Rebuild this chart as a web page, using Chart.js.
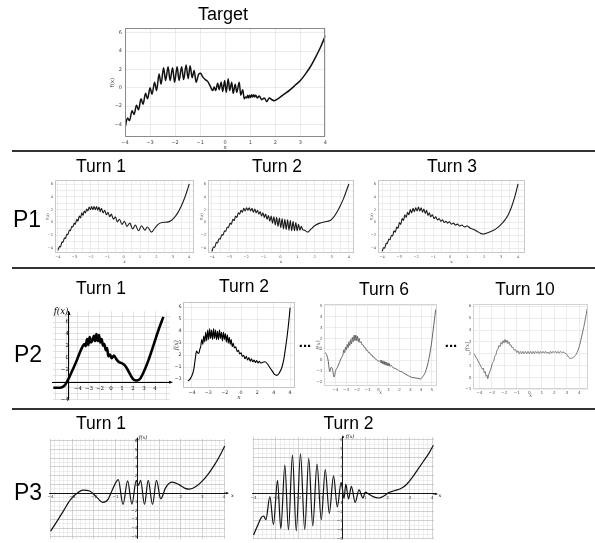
<!DOCTYPE html>
<html>
<head>
<meta charset="utf-8">
<script src="https://cdn.jsdelivr.net/npm/chart.js@4.4.1/dist/chart.umd.min.js"></script>
<style>
html, body { margin: 0; padding: 0; background: #fff; }
#fig { position: relative; width: 595px; height: 543px; overflow: hidden; font-family: 'Liberation Sans', Arial, sans-serif; }
.lbl { position: absolute; transform: translate(-50%, -50%); white-space: nowrap; line-height: 1; color: #000; }
.rule { position: absolute; left: 12px; width: 583px; height: 2px; background: #333; }
</style>
</head>
<body>
<div id="fig"></div>
<script>
// ---- curves (x, f(x)) ----
const targetX = [-4.0,-3.9,-3.82,-3.72,-3.64,-3.54,-3.46,-3.36,-3.28,-3.18,-3.1,-3.0,-2.92,-2.82,-2.74,-2.64,-2.56,-2.46,-2.38,-2.28,-2.2,-2.1,-2.02,-1.92,-1.84,-1.74,-1.66,-1.56,-1.48,-1.4,-1.32,-1.24,-1.16,-1.06,-0.98,-0.9,-0.8,-0.7,-0.6,-0.5,-0.44,-0.38,-0.3,-0.24,-0.16,-0.1,-0.02,0.04,0.12,0.18,0.26,0.32,0.4,0.46,0.56,0.62,0.7,0.76,0.82,0.86,0.9,0.94,0.98,1.02,1.06,1.1,1.14,1.18,1.22,1.28,1.36,1.46,1.56,1.66,1.76,1.86,1.96,2.1,2.3,2.6,2.8,3.0,3.2,3.4,3.6,3.8,4.0];
const targetY = [-4.4,-3.3,-3.6,-2.5,-2.9,-1.9,-2.4,-1.2,-1.8,-0.6,-1.2,0.0,-0.7,0.6,-0.3,1.5,0.4,2.2,0.8,2.3,0.8,2.2,0.6,2.3,0.8,2.3,0.9,2.5,1.0,2.4,1.1,1.9,0.6,1.5,1.6,1.2,0.9,0.7,0.2,-0.3,0.1,-0.3,0.5,-0.2,0.6,-0.4,0.8,-0.5,1.0,-0.3,0.6,-0.6,0.4,-0.5,0.6,-0.8,-0.2,-1.2,-1.0,-1.1,-0.8,-1.1,-0.8,-1.05,-0.75,-1.0,-0.75,-1.0,-0.8,-1.1,-0.9,-1.3,-1.1,-1.5,-1.1,-1.3,-1.4,-1.2,-0.8,-0.2,0.3,0.8,1.5,2.3,3.3,4.4,5.7];

const p1t1X = [-4.0,-3.9,-3.85,-3.75,-3.7,-3.6,-3.55,-3.45,-3.4,-3.3,-3.25,-3.15,-3.1,-3.0,-2.95,-2.85,-2.78,-2.7,-2.62,-2.55,-2.47,-2.4,-2.32,-2.25,-2.17,-2.1,-2.02,-1.95,-1.87,-1.8,-1.72,-1.65,-1.57,-1.5,-1.42,-1.35,-1.25,-1.15,-1.05,-0.95,-0.85,-0.75,-0.62,-0.5,-0.38,-0.25,-0.1,0.05,0.2,0.38,0.55,0.72,0.9,1.1,1.3,1.45,1.7,1.9,2.1,2.35,2.65,2.9,3.1,3.3,3.5,3.7,3.85,4.0];
const p1t1Y = [-4.35,-3.7,-3.8,-3.0,-3.1,-2.4,-2.5,-1.8,-1.9,-1.2,-1.3,-0.6,-0.7,-0.1,-0.3,0.5,0.2,1.0,0.7,1.5,1.1,1.8,1.5,2.1,1.8,2.4,2.0,2.5,2.0,2.5,2.0,2.5,1.9,2.4,1.7,2.2,1.5,1.9,1.2,1.6,0.9,1.3,0.5,0.9,0.1,0.5,-0.3,0.2,-0.6,-0.1,-1.0,-0.4,-1.3,-0.5,-1.2,-0.7,-1.5,-0.9,-0.3,0.0,0.05,0.3,0.8,1.5,2.5,3.7,4.8,6.0];

const p1t2X = [-4.0,-3.9,-3.84,-3.74,-3.68,-3.58,-3.52,-3.42,-3.36,-3.26,-3.2,-3.1,-3.04,-2.94,-2.87,-2.78,-2.7,-2.62,-2.54,-2.46,-2.38,-2.3,-2.22,-2.14,-2.06,-1.98,-1.9,-1.82,-1.74,-1.66,-1.58,-1.5,-1.42,-1.34,-1.26,-1.18,-1.1,-1.02,-0.94,-0.86,-0.78,-0.7,-0.62,-0.54,-0.46,-0.38,-0.3,-0.22,-0.14,-0.06,0.02,0.1,0.18,0.26,0.34,0.42,0.5,0.58,0.66,0.74,0.82,0.9,0.98,1.06,1.14,1.22,1.3,1.4,1.6,1.8,2.0,2.3,2.6,2.9,3.1,3.3,3.5,3.7,3.85,4.0];
const p1t2Y = [-4.5,-3.8,-3.9,-3.1,-3.2,-2.5,-2.6,-1.9,-2.0,-1.3,-1.4,-0.7,-0.8,-0.1,-0.3,0.5,0.3,1.0,0.8,1.5,1.3,1.9,1.6,2.2,1.8,2.3,1.9,2.3,1.8,2.2,1.6,2.1,1.5,1.9,1.3,1.7,1.0,1.5,0.8,1.3,0.5,1.1,0.2,1.0,-0.1,0.9,-0.4,0.8,-0.6,0.7,-0.8,0.6,-1.0,0.5,-1.1,0.4,-1.2,0.3,-1.3,0.2,-1.3,0.0,-1.3,-0.3,-1.2,-0.6,-1.1,-1.2,-1.5,-1.0,-0.5,-0.1,0.1,0.3,0.8,1.6,2.6,3.8,4.9,6.0];

const p1t3X = [-4.0,-3.9,-3.85,-3.75,-3.7,-3.6,-3.54,-3.45,-3.38,-3.3,-3.22,-3.14,-3.06,-2.98,-2.9,-2.82,-2.74,-2.66,-2.58,-2.5,-2.42,-2.34,-2.26,-2.18,-2.1,-2.02,-1.94,-1.86,-1.78,-1.7,-1.62,-1.54,-1.46,-1.38,-1.3,-1.22,-1.14,-1.04,-0.94,-0.84,-0.74,-0.64,-0.54,-0.44,-0.34,-0.24,-0.14,-0.04,0.08,0.2,0.32,0.44,0.56,0.7,0.84,1.0,1.2,1.4,1.6,1.8,1.95,2.2,2.5,2.8,3.0,3.2,3.4,3.6,3.8,4.0];
const p1t3Y = [-4.5,-3.9,-4.0,-3.2,-3.3,-2.6,-2.7,-2.0,-2.1,-1.3,-1.5,-0.7,-0.9,0.0,-0.3,0.6,0.3,1.2,0.8,1.6,1.2,2.0,1.5,2.2,1.7,2.3,1.8,2.4,1.8,2.3,1.6,2.1,1.4,1.9,1.1,1.5,0.9,1.2,0.6,0.9,0.4,0.6,0.2,0.4,0.0,0.2,-0.1,0.1,-0.25,-0.1,-0.4,-0.25,-0.55,-0.4,-0.7,-0.55,-0.9,-1.1,-1.4,-1.7,-1.8,-1.6,-1.3,-0.8,-0.3,0.3,1.1,2.3,3.9,6.0];

const p2t1X = [-5.24,-4.64,-4.24,-4.03,-3.73,-3.42,-3.12,-2.82,-2.61,-2.42,-2.30,-2.18,-2.06,-1.94,-1.82,-1.67,-1.55,-1.45,-1.33,-1.21,-1.09,-0.97,-0.85,-0.73,-0.61,-0.48,-0.36,-0.24,-0.09,0.06,0.27,0.48,0.73,0.97,1.21,1.45,1.73,2.03,2.33,2.64,2.94,3.39,3.85,4.3,4.76];
const p2t1Y = [-5.09,-5.09,-4.74,-4.18,-3.06,-1.79,-0.51,0.91,1.78,2.28,1.93,3.15,2.13,3.46,2.54,3.05,3.66,2.79,3.97,2.79,3.82,2.54,3.15,2.03,2.28,1.27,1.62,0.25,0.5,-0.1,0.35,-0.26,-0.77,-0.92,-1.23,-1.84,-2.8,-3.67,-3.87,-3.57,-2.55,-0.51,2.03,4.58,6.87];

const p2t2X = [-0.25,-0.1,0.05,0.12,0.2,0.28,0.35,0.42,0.48,0.53,0.6,0.66,0.72,0.78,0.84,0.9,0.96,1.02,1.08,1.14,1.2,1.26,1.32,1.38,1.44,1.5,1.56,1.62,1.68,1.74,1.8,1.86,1.92,1.98,2.04,2.1,2.16,2.22,2.28,2.34,2.4,2.46,2.52,2.6,2.68,2.76,2.84,2.92,3.0,3.08,3.16,3.24,3.32,3.4,3.48,3.56,3.64,3.72,3.8,3.88,3.96,4.04,4.12,4.2,4.3,4.47,4.6,4.75,4.9,5.05,5.2,5.35,5.5,5.62,5.72,5.82,5.92,6.0];
const p2t2Y = [-0.15,0.05,0.5,0.9,1.7,2.35,2.2,2.15,2.5,2.7,3.3,2.9,3.6,3.1,3.9,3.2,4.1,3.3,4.2,3.4,4.1,3.3,4.2,3.4,4.1,3.3,4.0,3.3,4.1,3.4,3.9,3.2,3.9,3.3,3.8,3.1,3.7,3.0,3.5,2.9,3.3,2.7,3.0,2.6,2.7,2.3,2.4,2.1,2.2,1.9,2.0,1.7,1.9,1.6,1.8,1.5,1.7,1.45,1.6,1.4,1.55,1.35,1.5,1.35,1.4,1.45,1.3,1.0,0.7,0.4,0.32,0.55,1.0,1.7,2.6,3.6,4.8,5.95];

const p2t6X = [-5.06,-4.88,-4.69,-4.53,-4.41,-4.29,-4.13,-3.98,-3.82,-3.63,-3.45,-3.3,-3.22,-3.14,-3.06,-2.98,-2.9,-2.82,-2.74,-2.66,-2.58,-2.5,-2.42,-2.34,-2.26,-2.18,-2.1,-2.02,-1.94,-1.86,-1.78,-1.7,-1.6,-1.5,-1.4,-1.3,-1.2,-1.1,-1.0,-0.9,-0.8,-0.7,-0.6,-0.5,-0.4,-0.3,-0.2,-0.1,0.0,0.1,0.2,0.26,0.32,0.38,0.44,0.5,0.56,0.62,0.68,0.74,0.8,0.86,0.92,0.98,1.04,1.1,1.2,1.35,1.6,1.8,2.0,2.2,2.5,2.8,3.1,3.4,3.7,3.95,4.15,4.35,4.5,4.66,4.82,4.97,5.1,5.2,5.3,5.37];
const p2t6Y = [0.74,0.62,0.03,-1.03,-0.65,-0.74,-1.53,-0.94,-0.65,-0.21,0.24,0.5,0.95,0.7,1.2,0.95,1.45,1.15,1.7,1.35,1.9,1.5,2.1,1.7,2.3,1.8,2.3,1.8,2.2,1.7,2.0,1.6,1.7,1.4,1.4,1.15,1.15,0.9,0.9,0.7,0.7,0.5,0.5,0.3,0.3,0.15,0.1,0.0,-0.05,-0.1,0.0,-0.25,0.0,-0.3,-0.05,-0.35,-0.1,-0.4,-0.15,-0.45,-0.2,-0.5,-0.25,-0.5,-0.3,-0.55,-0.45,-0.65,-0.75,-0.85,-1.0,-1.05,-1.25,-1.4,-1.55,-1.6,-1.65,-1.7,-1.5,-1.2,-0.8,-0.2,0.6,1.5,2.5,3.3,4.1,4.65];

const p2t10X = [-4.53,-4.4,-4.2,-4.0,-3.85,-3.75,-3.68,-3.6,-3.52,-3.45,-3.38,-3.32,-3.25,-3.15,-3.05,-2.95,-2.85,-2.75,-2.67,-2.58,-2.5,-2.42,-2.34,-2.26,-2.18,-2.1,-2.02,-1.94,-1.86,-1.78,-1.7,-1.62,-1.54,-1.46,-1.38,-1.3,-1.2,-1.1,-1.0,-0.9,-0.8,-0.7,-0.6,-0.5,-0.4,-0.3,-0.2,-0.1,0.0,0.1,0.2,0.3,0.4,0.5,0.6,0.7,0.8,0.9,1.0,1.1,1.2,1.3,1.4,1.5,1.6,1.7,1.8,1.9,2.0,2.1,2.2,2.3,2.4,2.5,2.6,2.7,2.85,3.0,3.15,3.3,3.45,3.6,3.75,3.9,4.05,4.2,4.35,4.5,4.62,4.72];
const p2t10Y = [2.2,1.95,1.6,1.2,0.9,0.7,0.8,0.4,0.5,0.1,0.2,-0.1,0.2,0.5,0.8,1.2,1.35,1.8,1.9,2.3,2.4,2.7,2.6,2.95,2.8,3.1,2.9,3.2,2.95,3.15,2.85,3.0,2.7,2.75,2.5,2.55,2.3,2.35,2.1,2.25,2.0,2.2,2.0,2.2,2.0,2.2,2.0,2.2,2.0,2.2,2.0,2.2,2.0,2.2,2.05,2.2,2.0,2.2,2.05,2.2,2.05,2.2,2.05,2.15,2.0,2.2,2.05,2.2,2.1,2.2,2.05,2.2,2.05,2.2,2.1,2.15,2.05,1.95,1.7,1.6,1.65,1.75,1.95,2.3,2.8,3.5,4.2,5.0,5.7,6.1];

const p3t1X = [-4.0,-3.7,-3.4,-3.1,-2.8,-2.5,-2.2,-1.9,-1.6,-1.35,-1.15,-0.88,-0.66,-0.45,-0.25,-0.05,0.05,0.15,0.33,0.5,0.7,0.88,1.08,1.3,1.6,1.9,2.2,2.4,2.7,3.0,3.3,3.6,3.85,4.03];
const p3t1Y = [-4.35,-3.2,-2.0,-0.8,-0.05,0.35,0.25,-0.4,-1.05,-0.7,0.4,1.55,-1.3,1.4,-1.25,1.45,0.9,1.45,-1.3,1.45,-1.3,1.45,-0.65,0.6,1.25,1.0,0.55,0.45,0.75,1.4,2.3,3.4,4.5,5.4];

const p3t2X = [-4.0,-3.82,-3.65,-3.55,-3.45,-3.27,-3.11,-2.93,-2.78,-2.6,-2.44,-2.26,-2.09,-1.9,-1.71,-1.53,-1.35,-1.16,-0.97,-0.79,-0.61,-0.42,-0.25,-0.08,0.05,0.13,0.25,0.38,0.55,0.72,0.9,1.0,1.15,1.35,1.6,1.85,2.05,2.3,2.6,2.85,3.1,3.35,3.6,3.85,4.05];
const p3t2Y = [-4.55,-3.5,-2.6,-2.45,-2.85,-0.3,-3.4,1.5,-3.85,3.2,-4.0,4.3,-4.1,4.45,-3.95,3.95,-3.55,3.3,-2.85,2.7,-2.15,2.0,-1.45,1.3,-0.5,1.1,-0.55,0.85,-0.95,0.45,-0.45,0.2,0.0,-0.3,-0.45,-0.2,0.15,0.35,0.6,1.05,1.8,2.7,3.6,4.5,5.4];

// ---- tick labels ----
const mainXTicks = [-4,-3,-2,-1,0,1,2,3,4];
const mainXText = ['−4','−3','−2','−1','0','1','2','3','4'];
const mainYTicks = [-4,-2,0,2,4,6];
const mainYText = ['−4','−2','0','2','4','6'];
const p2t1XTicks = [-3,-2,-1,0,1,2,3,4];
const p2t1XText = ['−4','−3','−2','0','1','2','3','4'];
const p2t1YTicks = [6,4,2,0,-2,-7];
const p2t1YText = ['6','4','2','0','−2','−4'];
const p2t2XTicks = [0,1,2,3,4,5,6];
const p2t2XText = ['−4','−3','−2','0','2','4','4'];
const p2t2YTicks = [0,1,2,3,4,5,6];
const p2t2YText = ['−3','−1','2','3','4','5','6'];
const p2t6XTicks = [-4,-3,-2,-1,0,1,2,3,4,5];
const p2t6XText = ['−4','−3','−2','−1','0','1','2','3','4','5'];
const p2t6YTicks = [-2,-1,0,1,2,3,4,5];
const p2t6YText = ['−2','−1','0','1','2','3','4','5'];
const p2t10YTicks = [-1,0,1,2,3,4,5,6];
const p2t10YText = ['−1','0','1','2','3','4','5','6'];
const p3XTicks = [-4,-3,-2,-1,1,2,3,4];
const p3XText = ['−4','−3','−2','−1','1','2','3','4'];
const p3YTicks = [6,5,4,3,2,1,-1,-2,-3,-4,-5];
const p3YText = ['6','5','4','3','2','1','−1','−2','−3','−4','−5'];

const fig = document.getElementById('fig');
Chart.defaults.font.family = 'DejaVu Sans';

function addText(txt, x, y, size, extra) {
    const d = document.createElement('div');
    d.className = 'lbl';
    d.textContent = txt;
    d.style.left = x + 'px';
    d.style.top = y + 'px';
    d.style.fontSize = size + 'px';
    if (extra) Object.assign(d.style, extra);
    fig.appendChild(d);
}

function steps(a, b, s) {
    const out = [];
    for (let v = a; v <= b + 1e-9; v += s) out.push(Math.round(v * 1000) / 1000);
    return out;
}

function labeler(vals, texts) {
    return function(v) {
        const i = vals.findIndex(t => Math.abs(t - v) < 1e-6);
        return i < 0 ? '' : texts[i];
    };
}

// frame round the plot area, and arrow heads for the crossing axes
const framePlugin = {
    id: 'frame',
    afterDatasetsDraw(chart, args, opt) {
        const ctx = chart.ctx, a = chart.chartArea;
        ctx.save();
        if (opt.color) {
            ctx.strokeStyle = opt.color;
            ctx.lineWidth = 1;
            ctx.strokeRect(Math.round(a.left) + 0.5, Math.round(a.top) + 0.5,
                Math.round(a.right - a.left) - 1, Math.round(a.bottom - a.top) - 1);
        }
        if (opt.cross) {
            const ax = chart.scales.x.getPixelForValue(opt.cross[0]);
            const ay = chart.scales.y.getPixelForValue(opt.cross[1]);
            const s = opt.head;
            ctx.strokeStyle = '#000';
            ctx.fillStyle = '#000';
            ctx.lineWidth = opt.axisW;
            const xr = a.right + opt.tipX;
            ctx.beginPath(); ctx.moveTo(a.right - 1, ay); ctx.lineTo(xr - s, ay); ctx.stroke();
            ctx.beginPath(); ctx.moveTo(xr, ay); ctx.lineTo(xr - s * 1.7, ay - s * 0.7); ctx.lineTo(xr - s * 1.7, ay + s * 0.7); ctx.closePath(); ctx.fill();
            const yt = a.top - opt.tipY;
            ctx.beginPath(); ctx.moveTo(ax, a.top + 1); ctx.lineTo(ax, yt + s); ctx.stroke();
            ctx.beginPath(); ctx.moveTo(ax, yt); ctx.lineTo(ax - s * 0.7, yt + s * 1.7); ctx.lineTo(ax + s * 0.7, yt + s * 1.7); ctx.closePath(); ctx.fill();
        }
        ctx.restore();
    }
};

function plot(o) {
    const p = o.pad, b = o.box;
    const W = Math.round(b[2] - b[0] + p.l + p.r);
    const H = Math.round(b[3] - b[1] + p.t + p.b);
    const cv = document.createElement('canvas');
    cv.width = W;
    cv.height = H;
    Object.assign(cv.style, { position: 'absolute', left: (b[0] - p.l) + 'px', top: (b[1] - p.t) + 'px', width: W + 'px', height: H + 'px' });
    fig.appendChild(cv);

    const centred = !!o.cross;
    const tickFont = { family: o.font || 'DejaVu Sans', size: o.fs };
    const titleFont = o.titleFont || { family: 'DejaVu Sans', size: o.fs + 0.5 };

    new Chart(cv, {
        type: 'line',
        data: {
            datasets: [{
                data: o.xs.map((x, i) => ({ x: x, y: o.ys[i] })),
                borderColor: o.line,
                borderWidth: o.lw,
                pointRadius: 0,
                cubicInterpolationMode: 'monotone',
                fill: false
            }]
        },
        options: {
            responsive: false,
            animation: false,
            events: [],
            layout: {
                autoPadding: false,
                padding: centred ? { left: p.l, top: p.t, right: p.r, bottom: p.b } : { left: 0, top: p.t, right: p.r, bottom: 0 }
            },
            plugins: {
                legend: { display: false },
                tooltip: { enabled: false },
                frame: { color: o.frame, cross: o.cross, head: o.head || 2, axisW: o.axisW || 1, tipX: o.tipX || 0, tipY: o.tipY || 0 }
            },
            scales: {
                x: {
                    type: 'linear',
                    min: o.x[0],
                    max: o.x[1],
                    position: centred ? { y: o.cross[1] } : 'bottom',
                    afterBuildTicks: s => { s.ticks = o.xGrid.map(v => ({ value: v })); },
                    afterFit: s => { s.height = centred ? 0 : p.b; },
                    grid: { color: o.grid, lineWidth: o.gridW || 0.8, drawTicks: false },
                    border: { display: centred, color: '#000', width: o.axisW || 1 },
                    ticks: { autoSkip: false, maxRotation: 0, padding: o.tickPad, font: tickFont, color: o.tickColor, callback: labeler(o.xTicks, o.xText) },
                    title: { display: !!o.xTitle, text: o.xTitle || '', padding: 0, font: titleFont, color: o.tickColor }
                },
                y: {
                    type: 'linear',
                    min: o.y[0],
                    max: o.y[1],
                    position: centred ? { x: o.cross[0] } : 'left',
                    afterBuildTicks: s => { s.ticks = o.yGrid.map(v => ({ value: v })); },
                    afterFit: s => { s.width = centred ? 0 : p.l; },
                    grid: { color: o.grid, lineWidth: o.gridW || 0.8, drawTicks: false },
                    border: { display: centred, color: '#000', width: o.axisW || 1 },
                    ticks: { autoSkip: false, padding: o.tickPad, font: tickFont, color: o.tickColor, callback: labeler(o.yTicks, o.yText) },
                    title: { display: !!o.yTitle, text: o.yTitle || '', padding: 0, font: titleFont, color: o.tickColor }
                }
            }
        },
        plugins: [framePlugin]
    });
}

const graphPaper = ctx => (Math.abs(ctx.tick.value - Math.round(ctx.tick.value)) < 1e-6 ? '#b4b4b4' : '#e2e2e2');

// ---- Target ----
plot({ box: [125, 24, 326, 137], pad: { l: 16, t: 2, r: 4, b: 14 }, xs: targetX, ys: targetY,
    x: [-4, 4], y: [-5.37, 6.53], xGrid: mainXTicks, yGrid: mainYTicks,
    xTicks: mainXTicks, xText: mainXText, yTicks: mainYTicks, yText: mainYText,
    line: '#111', lw: 1.5, grid: '#e6e6e6', frame: '#8a8a8a', fs: 5, tickColor: '#444', tickPad: 3,
    xTitle: 'x', yTitle: 'f(x)' });

// ---- P1 ----
const p1Common = { y: [-4.76, 6.6], xGrid: steps(-4, 4, 0.5), yGrid: steps(-4, 6, 1),
    xTicks: mainXTicks, xText: mainXText, yTicks: mainYTicks, yText: mainYText,
    line: '#1a1a1a', lw: 1.1, grid: '#e8e8e8', frame: '#c8c8c8', fs: 3.6, tickColor: '#555', tickPad: 2,
    xTitle: 'x', yTitle: 'f(x)' };
plot(Object.assign({}, p1Common, { box: [55, 178, 194, 253], pad: { l: 10, t: 2, r: 3, b: 11 }, xs: p1t1X, ys: p1t1Y, x: [-4.18, 4.29] }));
plot(Object.assign({}, p1Common, { box: [208, 178, 354, 253], pad: { l: 9, t: 2, r: 3, b: 11 }, xs: p1t2X, ys: p1t2Y, x: [-4.23, 4.3] }));
plot(Object.assign({}, p1Common, { box: [378, 178, 525, 253], pad: { l: 9, t: 2, r: 3, b: 11 }, xs: p1t3X, ys: p1t3Y, x: [-4.24, 4.41] }));

// ---- P2 ----
plot({ box: [53, 308, 170, 404], pad: { l: 2, t: 3, r: 6, b: 2 }, xs: p2t1X, ys: p2t1Y,
    x: [-5.27, 5.36], y: [-7.1, 7.81], xGrid: steps(-5, 5, 1), yGrid: steps(-7, 7, 1),
    xTicks: p2t1XTicks, xText: p2t1XText, yTicks: p2t1YTicks, yText: p2t1YText,
    line: '#000', lw: 2.6, grid: '#d6d6d6', gridW: 0.7, font: 'DejaVu Serif', fs: 5.5, tickColor: '#000', tickPad: 3,
    cross: [-3.82, -4.15], axisW: 1.1, head: 2.2, tipX: 3, tipY: 0 });
addText('f(x)', 61, 310.5, 8.5, { fontFamily: "'DejaVu Serif', serif", fontStyle: 'italic' });

plot({ box: [183.3, 300.3, 295, 388.7], pad: { l: 10, t: 2, r: 3, b: 13 }, xs: p2t2X, ys: p2t2Y,
    x: [-0.55, 6.3], y: [-0.73, 6.4], xGrid: p2t2XTicks, yGrid: p2t2YTicks,
    xTicks: p2t2XTicks, xText: p2t2XText, yTicks: p2t2YTicks, yText: p2t2YText,
    line: '#000', lw: 1.1, grid: '#e6e6e6', frame: '#c4c4c4', fs: 4.8, tickColor: '#333', tickPad: 1.5,
    xTitle: 'x', yTitle: 'f(x)', titleFont: { family: 'DejaVu Serif', size: 6, style: 'italic' } });

plot({ box: [324, 301, 437, 386], pad: { l: 9, t: 1, r: 2, b: 10 }, xs: p2t6X, ys: p2t6Y,
    x: [-5.07, 5.49], y: [-2.35, 5.15], xGrid: steps(-5, 5, 1), yGrid: steps(-2, 5, 1),
    xTicks: p2t6XTicks, xText: p2t6XText, yTicks: p2t6YTicks, yText: p2t6YText,
    line: '#555', lw: 0.9, grid: '#e8e8e8', frame: '#d4d4d4', fs: 4.2, tickColor: '#555', tickPad: 1.5,
    xTitle: 'x', yTitle: 'f(x)', titleFont: { family: 'DejaVu Serif', size: 5.5, style: 'italic' } });

plot({ box: [473, 301, 588, 389], pad: { l: 9, t: 1, r: 2, b: 10 }, xs: p2t10X, ys: p2t10Y,
    x: [-4.5, 4.7], y: [-0.97, 6.19], xGrid: steps(-4, 4, 1), yGrid: steps(-1, 6, 1),
    xTicks: mainXTicks, xText: mainXText, yTicks: p2t10YTicks, yText: p2t10YText,
    line: '#666', lw: 0.9, grid: '#e8e8e8', frame: '#d4d4d4', fs: 4.2, tickColor: '#555', tickPad: 1.5,
    xTitle: 'x', yTitle: 'f(x)', titleFont: { family: 'DejaVu Serif', size: 5.5, style: 'italic' } });

// ---- P3 ----
plot({ box: [48.3, 438, 225, 542], pad: { l: 2, t: 3, r: 8, b: 1 }, xs: p3t1X, ys: p3t1Y,
    x: [-4.03, 4.04], y: [-5.24, 6.19], xGrid: steps(-4, 4, 0.2), yGrid: steps(-5, 6, 0.5),
    xTicks: p3XTicks, xText: p3XText, yTicks: p3YTicks, yText: p3YText,
    line: '#111', lw: 1.2, grid: graphPaper, gridW: 0.6, fs: 4.2, tickColor: '#333', tickPad: 1.5,
    cross: [0, 0], axisW: 0.9, head: 1.6, tipX: 4, tipY: 2 });
addText('f(x)', 143, 437, 5, { fontFamily: "'DejaVu Serif', serif", fontStyle: 'italic' });
addText('x', 232.5, 494.5, 5, { fontFamily: "'DejaVu Serif', serif", fontStyle: 'italic' });

plot({ box: [250.7, 436, 433.3, 541.7], pad: { l: 2, t: 3, r: 8, b: 1 }, xs: p3t2X, ys: p3t2Y,
    x: [-4.04, 4.08], y: [-5.0, 6.32], xGrid: steps(-4, 4, 0.2), yGrid: steps(-5, 6, 0.5),
    xTicks: p3XTicks, xText: p3XText, yTicks: p3YTicks, yText: p3YText,
    line: '#111', lw: 1.2, grid: graphPaper, gridW: 0.6, fs: 4.2, tickColor: '#333', tickPad: 1.5,
    cross: [0, 0], axisW: 0.9, head: 1.6, tipX: 4, tipY: 2 });
addText('f(x)', 350, 435.5, 5, { fontFamily: "'DejaVu Serif', serif", fontStyle: 'italic' });
addText('x', 440, 495, 5, { fontFamily: "'DejaVu Serif', serif", fontStyle: 'italic' });

// ---- headings, row labels, rules ----
addText('Target', 223, 13.5, 18);
[151, 268, 408.5].forEach(y => {
    const r = document.createElement('div');
    r.className = 'rule';
    r.style.top = (y - 1) + 'px';
    fig.appendChild(r);
});
addText('Turn 1', 101, 166.5, 17.5);
addText('Turn 2', 277, 166.5, 17.5);
addText('Turn 3', 452, 166.5, 17.5);
addText('P1', 27, 218.5, 23);
addText('Turn 1', 101, 289, 17.5);
addText('Turn 2', 244, 286.5, 17.5);
addText('Turn 6', 384, 289.5, 17.5);
addText('Turn 10', 525, 289.5, 17.5);
addText('P2', 28, 353.5, 23);
addText('...', 305, 341, 15, { fontWeight: 'bold' });
addText('...', 451, 341, 15, { fontWeight: 'bold' });
addText('Turn 1', 101, 424, 17.5);
addText('Turn 2', 348.5, 424, 17.5);
addText('P3', 28, 492, 23);
</script>
</body>
</html>
